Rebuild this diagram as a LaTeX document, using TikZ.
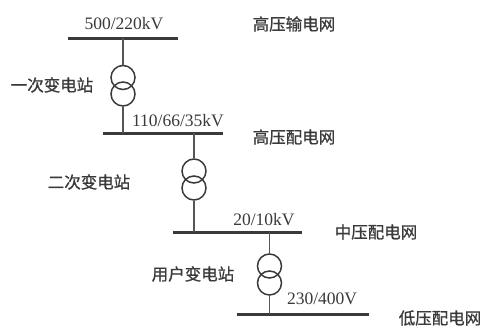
\documentclass[tikz,border=0pt]{standalone}
\usepackage{fontspec}
\setmainfont{Liberation Serif}
\newfontfamily\cjk[FakeBold=1]{Noto Sans CJK SC}
\definecolor{ink}{HTML}{3A3A3A}
\definecolor{wirec}{HTML}{555555}
\begin{document}
\begin{tikzpicture}[x=1pt,y=-1pt,
  bus/.style={draw=ink,line width=3pt},
  wire/.style={draw=wirec,line width=1.2pt},
  tc/.style={circle,draw=ink,line width=1.5pt,minimum size=24pt,inner sep=0pt},
  volt/.style={text=ink,font=\fontsize{17.5}{18}\selectfont,inner sep=0pt},
  lab/.style={text=ink,font=\cjk\fontsize{16.5}{18}\selectfont,inner sep=0pt}]
\useasboundingbox (0,0) rectangle (485,325);
% buses
\coordinate (b1l) at (68,38);  \coordinate (b1r) at (178,38);
\coordinate (b2l) at (103,133); \coordinate (b2r) at (223,133);
\coordinate (b3l) at (173,232); \coordinate (b3r) at (302,232);
\coordinate (b4l) at (237,314); \coordinate (b4r) at (369,314);
\draw[bus] (b1l) -- (b1r);
\draw[bus] (b2l) -- (b2r);
\draw[bus] (b3l) -- (b3r);
\draw[bus] (b4l) -- (b4r);
% taps
\coordinate (b1t) at (123,38);  \coordinate (b2t) at (123,133);
\coordinate (b2s) at (194,133); \coordinate (b3t) at (194,232);
\coordinate (b3s) at (269.5,232); \coordinate (b4t) at (269.5,314);
% transformers
\node[tc] (t1a) at (123,77.5) {};
\node[tc] (t1b) at (123,94) {};
\node[tc] (t2a) at (194,171) {};
\node[tc] (t2b) at (194,188) {};
\node[tc] (t3a) at (269.5,266) {};
\node[tc] (t3b) at (269.5,283) {};
\draw[wire] (b1t) -- (t1a.north);
\draw[wire] (t1b.south) -- (b2t);
\draw[wire] (b2s) -- (t2a.north);
\draw[wire] (t2b.south) -- (b3t);
\draw[wire] (b3s) -- (t3a.north);
\draw[wire] (t3b.south) -- (b4t);
% voltage labels
\node[volt] (v1) at (124,24) {500/220kV};
\node[volt] (v2) at (178,121) {110/66/35kV};
\node[volt] (v3) at (264,220) {20/10kV};
\node[volt] (v4) at (322,299) {230/400V};
% network labels
\node[lab] (n1) at (294,24) {高压输电网};
\node[lab] (n2) at (294,137) {高压配电网};
\node[lab] (n3) at (376,232) {中压配电网};
\node[lab] (n4) at (440,318) {低压配电网};
% station labels
\node[lab] (s1) at (52,85) {一次变电站};
\node[lab] (s2) at (89,182) {二次变电站};
\node[lab] (s3) at (193,274) {用户变电站};
\end{tikzpicture}
\end{document}
